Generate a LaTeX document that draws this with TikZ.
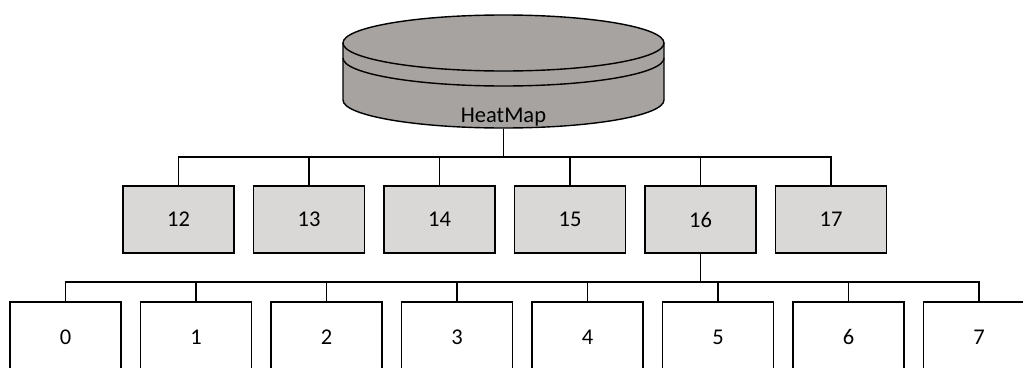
\documentclass[tikz,border=0pt]{standalone}
\usepackage{fontspec}
\setmainfont{Carlito}
\definecolor{dbgray}{RGB}{166,163,161}
\definecolor{boxgray}{RGB}{217,216,214}
\begin{document}
\begin{tikzpicture}[x=1pt,y=-1pt,
  line width=1.4pt,
  every node/.style={font=\fontsize{22.5}{27}\selectfont, inner sep=0pt},
  midbox/.style={draw, fill=boxgray, minimum width=111pt, minimum height=67pt},
  leafbox/.style={draw, fill=white, minimum width=111pt, minimum height=70pt}]
\useasboundingbox (0,0) rectangle (1023,367);
\begin{scope}
\clip (0,0) rectangle (1023,367);
% database cylinder
\node[minimum width=321pt, minimum height=113pt] (db) at (503.5,71.5) {};
\fill[dbgray] (343,43) rectangle (664,100);
\fill[dbgray] (503.5,100) ellipse[x radius=160.5, y radius=28];
\filldraw[fill=dbgray] (503.5,43) ellipse[x radius=160.5, y radius=28];
\draw (343,58) arc[start angle=180, end angle=360, x radius=160.5, y radius=-28];
\draw (343,43) -- (343,100) arc[start angle=180, end angle=360, x radius=160.5, y radius=-28] -- (664,43);
\node (dblabel) at (503.5,117) {HeatMap};
\coordinate (bus1) at (503.5,157);
% middle row
\foreach \n [count=\i from 0] in {12,13,14,15,16,17} {
  \node[midbox] (m\n) at ({178.5+130.5*\i},219.5) {\n};
  \draw (db.south) -- (bus1) -| (m\n.north);
}
\coordinate (bus2) at (700.5,282);
% bottom row
\foreach \n in {0,...,7} {
  \node[leafbox] (l\n) at ({65.5+130.5*\n},337) {\n};
  \draw (m16.south) -- (bus2) -| (l\n.north);
}
\end{scope}
\end{tikzpicture}
\end{document}
